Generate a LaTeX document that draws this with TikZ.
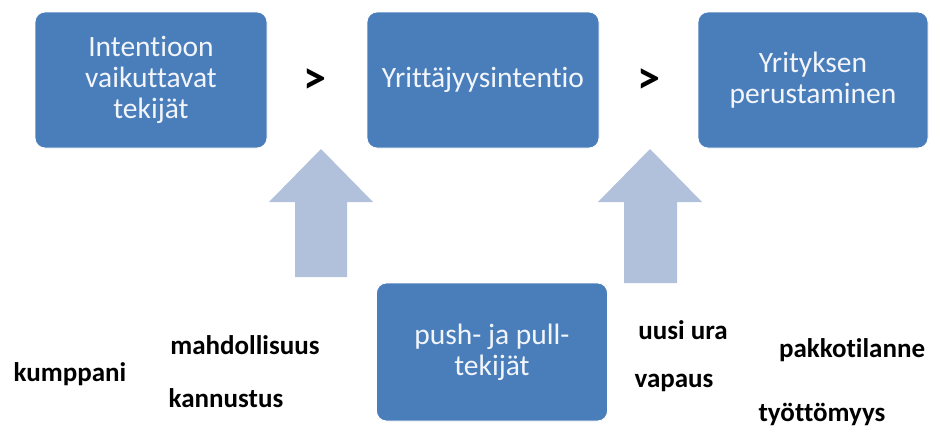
\documentclass[tikz,border=0pt]{standalone}
\usepackage{fontspec}
\setmainfont{Carlito}[Ligatures=NoCommon]
\begin{document}
\begin{tikzpicture}[x=1pt,y=-1pt,
  stepbox/.style={rectangle, rounded corners=10pt, fill=boxblue, draw=white, line width=0.8pt,
    minimum width=232pt, minimum height=136pt, inner sep=4pt, text=boxtext,
    align=center, font=\fontsize{29.5}{31}\selectfont},
  factor/.style={font=\bfseries\fontsize{27}{30}\selectfont, text=black, inner sep=0pt},
  gt/.style={font=\bfseries\fontsize{46}{48}\selectfont, text=black, inner sep=0pt},
  blockarrow/.style={fill=arrowblue, draw=none}]
\definecolor{boxblue}{HTML}{4A7EBB}
\definecolor{boxtext}{HTML}{F2F5FA}
\definecolor{arrowblue}{HTML}{B1C1DB}
\useasboundingbox (0,0) rectangle (930,429);

% main chain
\node[stepbox] (tekijat) at (151,80) {Intentioon\\vaikuttavat\\tekijät};
\node[stepbox] (intentio) at (483,80) {Yrittäjyysintentio};
\node[stepbox, minimum width=230pt] (yritys) at (813,80) {Yrityksen\\perustaminen};
\node[gt] (gt1) at (315,81) {>};
\node[gt] (gt2) at (649,81) {>};

% push and pull factors
\node[stepbox, minimum width=231pt, minimum height=138pt] (pushpull) at (492,352) {push- ja pull-\\tekijät};

% block arrows pointing up into the chain
\path[blockarrow] (321,149) -- (373,202) -- (347,202) -- (347,277) -- (295,277) -- (295,202) -- (269,202) -- cycle;
\path[blockarrow] (650,149) -- (702,202) -- (677,202) -- (677,283) -- (624,283) -- (624,202) -- (598,202) -- cycle;

% pull factors
\node[factor] (mahd) at (245,345) {mahdollisuus};
\node[factor] (kump) at (70,374) {kumppani};
\node[factor] (kann) at (226,398) {kannustus};
% push factors
\node[factor] (ura) at (683,330) {uusi ura};
\node[factor] (pakko) at (852,350) {pakkotilanne};
\node[factor] (vapaus) at (674,383) {vapaus};
\node[factor] (tyot) at (822,414) {työttömyys};
\end{tikzpicture}
\end{document}
